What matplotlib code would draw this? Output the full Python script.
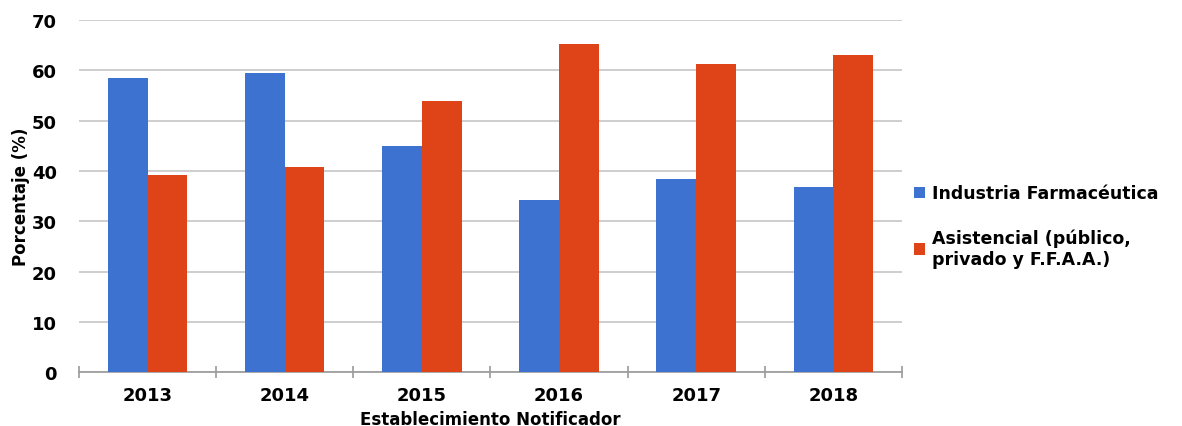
import matplotlib.pyplot as plt
import numpy as np

years = ['2013', '2014', '2015', '2016', '2017', '2018']
industria = [58.5, 59.5, 45.0, 34.3, 38.5, 36.8]
asistencial = [39.2, 40.7, 54.0, 65.2, 61.3, 63.1]
series_names = ['Industria Farmacéutica', 'Asistencial (público,\nprivado y F.F.A.A.)']

blue = '#3D72D1'
red = '#DF4419'
grid_col = '#C6C6C6'

plt.rcParams['font.family'] = 'DejaVu Sans'
plt.rcParams['font.weight'] = 'bold'

fig = plt.figure(figsize=(11.82, 4.27), dpi=100)
ax = fig.add_axes([0.0668, 0.1257, 0.6963, 0.8251])

x = np.arange(len(years))
w = 0.29
ax.bar(x - w / 2, industria, w, color=blue, label=series_names[0], zorder=3)
ax.bar(x + w / 2, asistencial, w, color=red, label=series_names[1], zorder=3)

ax.set_xlim(-0.5, len(years) - 0.5)
ax.set_ylim(0, 70)
ax.set_yticks(range(0, 71, 10))
ax.yaxis.grid(True, color=grid_col, linewidth=1.2, zorder=0)
ax.set_axisbelow(True)

for s in ['top', 'right', 'left']:
    ax.spines[s].set_visible(False)
ax.spines['bottom'].set_color('#999999')
ax.spines['bottom'].set_linewidth(1.2)

ax.set_xticks(x)
ax.set_xticklabels(years)
ax.set_xticks(np.arange(-0.5, len(years)), minor=True)
ax.tick_params(axis='x', which='major', length=0, pad=10, labelsize=13)
ax.tick_params(axis='x', which='minor', direction='inout', length=9, color='#999999', width=1.2)
ax.tick_params(axis='y', length=0, pad=16, labelsize=13)

ax.set_xlabel('Establecimiento Notificador', fontsize=12, fontweight='bold', labelpad=4)
ax.set_ylabel('Porcentaje (%)', fontsize=12, fontweight='bold', labelpad=1)

fig.legend(loc='center left', bbox_to_anchor=(0.760, 0.468), frameon=False,
           handlelength=0.65, handleheight=0.65, handletextpad=0.4,
           labelspacing=1.5, prop={'size': 12.5, 'weight': 'bold'})

fig.savefig('out.png', dpi=100)
